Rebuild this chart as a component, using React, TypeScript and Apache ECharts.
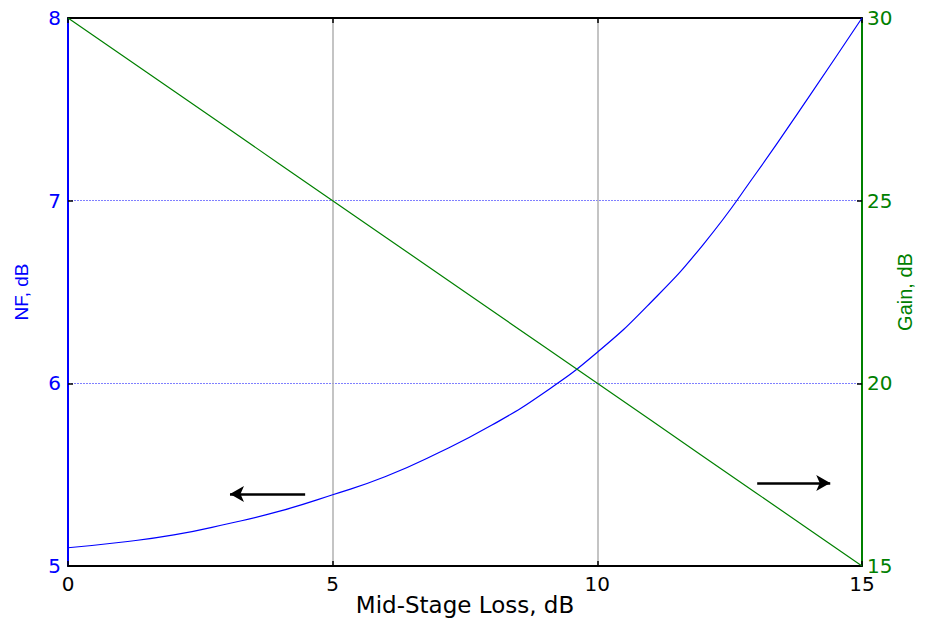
import React, { useEffect, useRef } from "react";
import * as echarts from "echarts";

const lossDb = [0, 1, 2, 3, 4, 5, 6, 7, 8, 9, 10, 11, 12, 13, 14, 15];
const nfDb = [5.10, 5.13, 5.17, 5.23, 5.30, 5.39, 5.49, 5.62, 5.77, 5.95, 6.17, 6.44, 6.76, 7.15, 7.57, 8.00];
const gainDb = [30, 29, 28, 27, 26, 25, 24, 23, 22, 21, 20, 19, 18, 17, 16, 15];
const leftArrow = [[4.48, 5.394], [3.06, 5.394]];
const rightArrow = [[13.02, 5.454], [14.4, 5.454]];

const FONT = "DejaVu Sans, Liberation Sans, Arial, sans-serif";
const VFONT = "Liberation Sans, Arial, sans-serif";

export default function App() {
  const ref = useRef<HTMLDivElement>(null);
  useEffect(() => {
    if (!ref.current) return;
    const chart = echarts.init(ref.current, null, { renderer: "svg" });
    chart.setOption({
      animation: false,
      backgroundColor: "#ffffff",
      grid: { left: 68, right: 63, top: 18, bottom: 56, containLabel: false, outerBoundsMode: "none" },
      xAxis: [
        {
          type: "value",
          min: 0,
          max: 15,
          interval: 5,
          position: "bottom",
          name: "Mid-Stage Loss, dB",
          nameLocation: "middle",
          nameGap: 27,
          nameMoveOverlap: false,
          nameTextStyle: { color: "#000", fontSize: 23, fontFamily: FONT },
          axisLine: { show: true, onZero: false, lineStyle: { color: "#000", width: 2 } },
          axisTick: { show: true, inside: true, length: 5, lineStyle: { color: "#000", width: 1.5 } },
          axisLabel: { color: "#000", fontSize: 20, fontFamily: FONT, margin: 8 },
          splitLine: { show: true, lineStyle: { color: "#b0b0b0", width: 1.5, type: "solid" } },
        },
        {
          type: "value",
          min: 0,
          max: 15,
          interval: 5,
          position: "top",
          axisLine: { show: true, onZero: false, lineStyle: { color: "#000", width: 2 } },
          axisTick: { show: true, inside: true, length: 5, lineStyle: { color: "#000", width: 1.5 } },
          axisLabel: { show: false },
          splitLine: { show: false },
        },
      ],
      yAxis: [
        {
          type: "value",
          min: 5,
          max: 8,
          interval: 1,
          position: "left",
          name: "NF, dB",
          nameLocation: "middle",
          nameGap: 37,
          nameTextStyle: { color: "#0000ff", fontSize: 19, fontFamily: VFONT },
          axisLine: { show: true, onZero: false, lineStyle: { color: "#0000ff", width: 2 } },
          axisTick: { show: true, inside: true, length: 5, lineStyle: { color: "#000", width: 1.5 } },
          axisLabel: { color: "#0000ff", fontSize: 20, fontFamily: FONT, margin: 7 },
          splitLine: { show: true, lineStyle: { color: "#8080ff", width: 1, type: [2, 1] } },
        },
        {
          type: "value",
          min: 15,
          max: 30,
          interval: 5,
          position: "right",
          name: "Gain, dB",
          nameLocation: "middle",
          nameGap: 33,
          nameMoveOverlap: false,
          nameRotate: 90,
          nameTextStyle: { color: "#008000", fontSize: 20, fontFamily: VFONT },
          axisLine: { show: true, onZero: false, lineStyle: { color: "#008000", width: 2 } },
          axisTick: { show: true, inside: true, length: 5, lineStyle: { color: "#000", width: 1.5 } },
          axisLabel: { color: "#008000", fontSize: 20, fontFamily: FONT, margin: 5 },
          splitLine: { show: false },
        },
      ],
      series: [
        {
          type: "line",
          name: "NF",
          xAxisIndex: 0,
          yAxisIndex: 0,
          data: lossDb.map((x, i) => [x, nfDb[i]]),
          smooth: true,
          showSymbol: false,
          lineStyle: { color: "#0000ff", width: 1.2 },
          markLine: {
            silent: true,
            symbol: ["none", "arrow"],
            symbolSize: [12, 14],
            label: { show: false },
            lineStyle: { color: "#000", width: 2.5, type: "solid" },
            data: [
              [{ coord: leftArrow[0] }, { coord: leftArrow[1] }],
              [{ coord: rightArrow[0] }, { coord: rightArrow[1] }],
            ],
          },
        },
        {
          type: "line",
          name: "Gain",
          xAxisIndex: 0,
          yAxisIndex: 1,
          data: lossDb.map((x, i) => [x, gainDb[i]]),
          showSymbol: false,
          lineStyle: { color: "#008000", width: 1.2 },
        },
      ],
    });
    return () => chart.dispose();
  }, []);
  return (
    <div
      ref={ref}
      style={{ position: "fixed", left: 0, top: 0, width: 925, height: 622 }}
    />
  );
}
